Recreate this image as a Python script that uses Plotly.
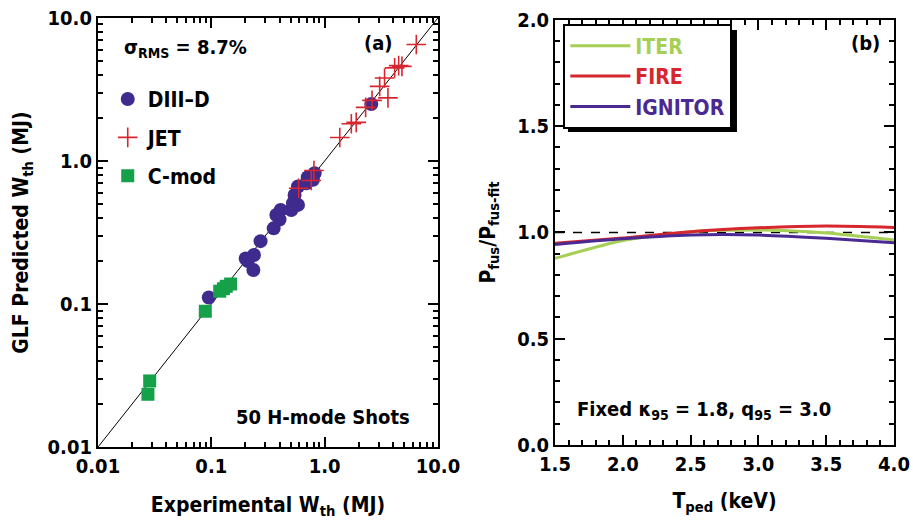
import plotly.graph_objects as go

# ---- Panel (a) data: experimental vs predicted W_th (MJ)
diiid_exp = [0.095, 0.201, 0.238, 0.235, 0.21, 0.272, 0.355, 0.375, 0.409, 0.40, 0.508, 0.526, 0.582, 0.543, 0.582, 0.689, 0.789, 0.816, 0.71, 2.58]
diiid_pred = [0.111, 0.208, 0.220, 0.173, 0.200, 0.275, 0.338, 0.419, 0.454, 0.39, 0.454, 0.506, 0.493, 0.579, 0.663, 0.699, 0.738, 0.821, 0.77, 2.50]
jet_exp = [0.590, 0.762, 0.805, 1.36, 1.72, 1.90, 2.30, 2.62, 3.06, 3.38, 3.62, 4.15, 4.50, 4.81, 6.44]
jet_pred = [0.645, 0.730, 0.857, 1.46, 1.82, 1.86, 2.37, 2.65, 3.32, 3.80, 2.76, 4.47, 4.64, 4.58, 6.51]
cmod_exp = [0.0286, 0.0276, 0.0885, 0.1186, 0.1355, 0.148, 0.128]
cmod_pred = [0.029, 0.0234, 0.089, 0.123, 0.133, 0.138, 0.128]
diag = [0.01, 10.0]

# ---- Panel (b) data: P_fus / P_fus-fit vs T_ped (keV)
t_ped = [1.5, 2.0, 2.5, 3.0, 3.5, 4.0]
iter_ratio = [0.878, 0.962, 1.004, 1.012, 0.998, 0.965]
fire_ratio = [0.949, 0.974, 1.004, 1.022, 1.030, 1.024]
ignitor_ratio = [0.944, 0.970, 0.988, 0.988, 0.973, 0.952]
ref_x = [1.5, 4.0]
ref_y = [1.0, 1.0]

log_ticks = [0.01, 0.1, 1.0, 10.0]
log_labels = ["0.01", "0.1", "1.0", "10.0"]
log_minor = [m * d for d in [0.01, 0.1, 1.0] for m in range(2, 10)]
lin_x_ticks = [1.5, 2.0, 2.5, 3.0, 3.5, 4.0]
lin_y_ticks = [0.0, 0.5, 1.0, 1.5, 2.0]

FONT = "DejaVu Sans Condensed, Liberation Sans Narrow, Arial Narrow, Liberation Sans"
PURPLE = "#3f2a8e"
RED = "#d8262e"
GREEN = "#14a14a"
C_ITER = "#a6cf55"
C_FIRE = "#d8262e"
C_IGN = "#4a2a92"

fig = go.Figure()

fig.add_trace(go.Scatter(x=diag, y=diag, mode="lines", line=dict(color="black", width=1),
                         showlegend=False, xaxis="x", yaxis="y", hoverinfo="skip"))
fig.add_trace(go.Scatter(x=diiid_exp, y=diiid_pred, mode="markers", name="DIII\u2013D",
                         marker=dict(symbol="circle", size=14, color=PURPLE),
                         xaxis="x", yaxis="y", legend="legend", legendgroup="a"))
fig.add_trace(go.Scatter(x=jet_exp, y=jet_pred, mode="markers", name="JET",
                         marker=dict(symbol="cross-thin", size=14, color=RED,
                                     line=dict(color=RED, width=1.6)),
                         xaxis="x", yaxis="y", legend="legend", legendgroup="b"))
fig.add_trace(go.Scatter(x=cmod_exp, y=cmod_pred, mode="markers", name="C-mod",
                         marker=dict(symbol="square", size=13, color=GREEN),
                         xaxis="x", yaxis="y", legend="legend", legendgroup="c"))

fig.add_trace(go.Scatter(x=ref_x, y=ref_y, mode="lines", line=dict(color="black", width=1.5, dash="dash"),
                         showlegend=False, xaxis="x2", yaxis="y2", hoverinfo="skip"))
fig.add_trace(go.Scatter(x=t_ped, y=iter_ratio, mode="lines", line=dict(color=C_ITER, width=3, shape="spline", smoothing=0.6),
                         name="<span style='color:%s'>ITER</span>" % C_ITER, xaxis="x2", yaxis="y2", legend="legend2"))
fig.add_trace(go.Scatter(x=t_ped, y=fire_ratio, mode="lines", line=dict(color=C_FIRE, width=3, shape="spline", smoothing=0.6),
                         name="<span style='color:%s'>FIRE</span>" % C_FIRE, xaxis="x2", yaxis="y2", legend="legend2"))
fig.add_trace(go.Scatter(x=t_ped, y=ignitor_ratio, mode="lines", line=dict(color=C_IGN, width=3, shape="spline", smoothing=0.6),
                         name="<span style='color:%s'>IGNITOR</span>" % C_IGN, xaxis="x2", yaxis="y2", legend="legend2"))

BF = dict(family=FONT, size=21, color="black", weight="bold")
TF = dict(family=FONT, size=20, color="black", weight="bold")
axis_common = dict(showline=True, linecolor="black", linewidth=2, mirror="ticks",
                   ticks="inside", ticklen=10, tickwidth=1.5, tickcolor="black",
                   showgrid=False, zeroline=False, automargin=False,
                   tickfont=TF)

fig.update_layout(
    width=913, height=526, margin=dict(l=0, r=0, t=0, b=0, autoexpand=False),
    plot_bgcolor="white", paper_bgcolor="white",
    font=dict(family=FONT, color="black", size=20, weight="bold"),
    xaxis=dict(type="log", range=[-2, 1], domain=[0.1073, 0.4797], anchor="y",
               tickmode="array", tickvals=log_ticks, ticktext=log_labels,
               minor=dict(tickmode="array", tickvals=log_minor, ticks="inside", ticklen=5, tickcolor="black", tickwidth=1.5),
               title=dict(text="Experimental W<sub>th</sub> (MJ)", font=BF, standoff=20),
               **axis_common),
    yaxis=dict(type="log", range=[-2, 1], domain=[0.150, 0.966], anchor="x",
               tickmode="array", tickvals=log_ticks, ticktext=log_labels,
               minor=dict(tickmode="array", tickvals=log_minor, ticks="inside", ticklen=5, tickcolor="black", tickwidth=1.5),
               title=dict(text="GLF Predicted W<sub>th</sub> (MJ)", font=BF, standoff=13),
               **axis_common),
    xaxis2=dict(range=[1.5, 4.0], domain=[0.6079, 0.9792], anchor="y2",
                tickmode="array", tickvals=lin_x_ticks, ticktext=["%.1f" % v for v in lin_x_ticks],
                minor=dict(dtick=0.1, ticks="inside", ticklen=5, tickcolor="black", tickwidth=1.5),
                title=dict(text="T<sub>ped</sub> (keV)", font=BF, standoff=18),
                **axis_common),
    yaxis2=dict(range=[0, 2.0], domain=[0.154, 0.962], anchor="x2",
                tickmode="array", tickvals=lin_y_ticks, ticktext=["%.1f" % v for v in lin_y_ticks],
                minor=dict(dtick=0.1, ticks="inside", ticklen=5, tickcolor="black", tickwidth=1.5),
                title=dict(text="P<sub>fus</sub>/P<sub>fus-fit</sub>", font=BF, standoff=16),
                **axis_common),
    legend=dict(x=0.118, y=0.85, xanchor="left", yanchor="top", bgcolor="rgba(0,0,0,0)",
                font=dict(family=FONT, size=21, color="black", weight="bold"), itemwidth=30,
                tracegroupgap=8, traceorder="grouped"),
    legend2=dict(x=0.617, y=0.955, xanchor="left", yanchor="top", bgcolor="white",
                 bordercolor="black", borderwidth=2,
                 font=dict(family=FONT, size=21, weight="bold"), itemwidth=60),
    shapes=[
        # drop shadow behind the panel (b) legend box
        dict(type="rect", xref="paper", yref="paper", x0=0.6221, x1=0.8072, y0=0.749, y1=0.943,
             fillcolor="black", line=dict(width=0), layer="above"),
    ],
    annotations=[
        dict(text="\u03c3<sub>RMS</sub> = 8.7%", xref="x domain", yref="y domain", x=0.07, y=0.93,
             xanchor="left", yanchor="middle", showarrow=False, font=dict(size=20)),
        dict(text="(a)", xref="x domain", yref="y domain", x=0.824, y=0.942,
             xanchor="center", yanchor="middle", showarrow=False, font=dict(size=20)),
        dict(text="50 H-mode Shots", xref="x domain", yref="y domain", x=0.924, y=0.07,
             xanchor="right", yanchor="middle", showarrow=False, font=dict(size=20)),
        dict(text="(b)", xref="x2 domain", yref="y2 domain", x=0.917, y=0.946,
             xanchor="center", yanchor="middle", showarrow=False, font=dict(size=20)),
        dict(text="Fixed \u03ba<sub>95</sub> = 1.8, q<sub>95</sub> = 3.0", xref="x2 domain", yref="y2 domain",
             x=0.059, y=0.082, xanchor="left", yanchor="middle", showarrow=False, font=dict(size=20)),
    ],
)

fig.write_html("out.html")
